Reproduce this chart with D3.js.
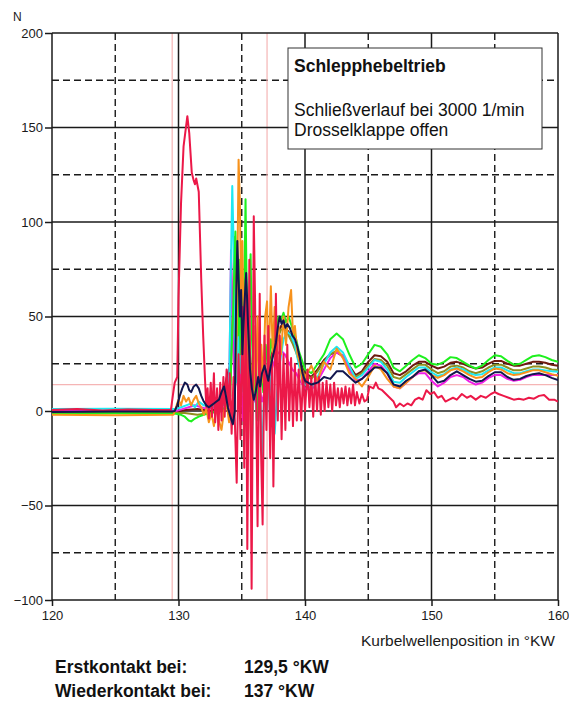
<!DOCTYPE html>
<html><head><meta charset="utf-8">
<script src="https://cdn.jsdelivr.net/npm/d3@7"></script>
<style>body{margin:0;background:#fff;} text{font-family:"Liberation Sans",Arial,sans-serif;}</style>
</head><body><svg id="c" width="569" height="704"></svg>
<script>
const xTicks = [120,130,140,150,160];
const yTicks = [-100,-50,0,50,100,150,200];
const xMinor = [125,135,145,155];
const yMinor = [-75,-25,25,75,125,175];
const contactX = [129.5,137];
const contactY = [14];

const tailX = [140,140.5,141,141.5,142,142.5,143,143.5,144,144.5,145,145.5,146,146.5,147,147.5,148,148.5,149,149.5,150,150.5,151,151.5,152,152.5,153,153.5,154,154.5,155,155.5,156,156.5,157,157.5,158,158.5,159,159.5,160];

const redData = [[120,0.5],[122,1],[124,0.3],[126,0.8],[128,0.5],[129.4,0.6],[129.55,8],[129.7,15],[129.9,18],[130.0,60],[130.2,110],[130.4,140],[130.7,156],[130.85,147],[131.05,126],[131.2,122],[131.3,120],[131.4,123],[131.6,116],[131.8,69],[131.95,40],[132.1,16],[132.2,2],[132.3,12],[132.4,-4],[132.55,15],[132.65,-3],[132.8,20],[132.9,-6],[133.05,12],[133.15,-10],[133.3,15],[133.4,-5],[133.55,18],[133.65,-3],[133.8,22],[133.95,0],[134.05,20],[134.2,-12],[134.35,18],[134.6,-38],[134.75,30],[134.9,-15],[135.05,55],[135.2,-30],[135.32,70],[135.44,-73],[135.6,80],[135.78,-94],[135.95,103],[136.05,60],[136.25,-61],[136.42,62],[136.52,-20],[136.65,-60],[136.8,40],[136.95,-10],[137.1,45],[137.25,-25],[137.4,30],[137.5,-40],[137.7,62],[137.85,-5],[138.0,40],[138.15,-15],[138.3,30],[138.45,-10],[138.6,35],[138.75,-5],[138.9,28],[139.05,-8],[139.2,25],[139.35,-5],[139.5,22],[139.7,-5],[139.85,20],[140.0,0],[140.2,22],[140.35,2],[140.5,18],[140.65,-3],[140.8,20],[140.95,0],[141.1,18],[141.25,-2],[141.4,15],[141.55,0],[141.7,16],[141.85,2],[142.0,14],[142.15,0],[142.3,15],[142.45,3],[142.6,12],[142.75,2],[142.9,12],[143.05,4],[143.2,13],[143.35,3],[143.5,12],[143.65,4],[143.8,14],[143.95,3],[144.1,10],[144.3,4],[144.5,9],[144.7,5],[144.9,6],[145.1,13],[145.4,12],[145.6,15],[145.8,12],[146.1,11],[146.4,9],[146.7,7],[147.0,5],[147.2,2],[147.5,4],[147.8,2.5],[148.1,4],[148.4,3],[148.7,6],[149.0,7],[149.3,6],[149.6,11],[149.9,9],[150.2,10],[150.5,7],[150.8,8],[151.1,5],[151.4,6],[151.7,7],[152.0,6],[152.4,9],[152.8,7],[153.1,8],[153.5,6],[153.9,8],[154.3,7],[154.7,9],[155.0,10],[155.3,9],[155.7,8],[156.1,7],[156.5,6],[156.9,6.5],[157.3,6],[157.7,7],[158.1,6.5],[158.5,8],[158.9,8.5],[159.3,6],[159.7,6],[160,5]];

const navyHead = [[120,-0.5],[125,-0.3],[129.5,-0.3],[129.7,0],[129.9,3],[130.1,8],[130.3,12],[130.5,15],[130.7,14],[130.85,11],[131.0,10],[131.2,13],[131.4,14],[131.6,12],[131.8,8],[132.0,5],[132.2,3],[132.4,2],[132.6,3],[132.8,4],[133.0,5],[133.2,6],[133.4,10],[133.6,13],[133.75,8],[133.9,2],[134.1,-3],[134.3,-7],[134.45,0],[134.55,55],[134.65,90],[134.75,70],[134.85,50],[134.95,64],[135.05,30],[135.2,55],[135.35,73],[135.5,45],[135.65,22],[135.8,12],[135.95,6],[136.1,10],[136.3,18],[136.45,13],[136.6,20],[136.8,24],[136.95,20],[137.1,16],[137.3,24],[137.5,30],[137.7,36],[137.85,44],[138.0,50],[138.15,46],[138.3,48],[138.45,44],[138.6,46],[138.8,44],[139.0,40],[139.2,38],[139.4,34],[139.6,28],[139.8,20]];
const navyTail = [16,14,15,18,17,21,21,18,15,17,20,23,23,20,14,13,16,18,21,22,19,15,16,19,21,19,17,15.5,16,18.5,20.5,20.5,18,16.5,17,18.5,19.5,20,19,17.5,16.4];

const greenHead = [[120,-1.5],[125,-1.2],[129.8,-1.5],[130.2,-2],[130.5,-3],[130.8,-5],[131.0,-5.5],[131.3,-4],[131.6,-3],[132.0,-2],[132.5,-1],[133.0,0],[133.5,1],[133.9,3],[134.1,15],[134.3,50],[134.5,95],[134.6,70],[134.7,40],[134.8,80],[134.9,30],[135.0,70],[135.15,40],[135.3,112],[135.45,30],[135.6,60],[135.7,83],[135.8,40],[135.95,10],[136.1,30],[136.3,-5],[136.5,25],[136.7,10],[136.9,35],[137.1,20],[137.3,38],[137.5,30],[137.7,42],[137.9,50],[138.1,48],[138.3,52],[138.5,47],[138.7,50],[138.9,46],[139.1,42],[139.3,38],[139.5,32],[139.7,28],[139.9,24]];
const greenTail = [22,20,25,30,38,41,38,30,23,25,30,35,34,30,23,21,24,27,29.5,28,25,24.5,26,28.5,28,26,24,22.5,24,27,29.5,29,26.5,24.5,25,27,29,29.5,28.5,27,26];

const brownHead = [[120,-0.5],[129.8,-0.5],[130.5,0.5],[131.5,1],[132.5,0],[133.0,1],[133.3,5],[133.6,12],[133.9,20],[134.1,25],[134.25,40],[134.4,70],[134.5,85],[134.6,50],[134.75,20],[134.9,45],[135.05,15],[135.25,40],[135.45,10],[135.65,30],[135.85,5],[136.1,20],[136.35,10],[136.6,22],[136.9,18],[137.2,26],[137.5,33],[137.8,40],[138.1,45],[138.4,44],[138.7,42],[139.0,38],[139.3,33],[139.6,27],[139.9,21]];
const brownTail = [20,18,22,27,30,31,29,24,19,21,26,29.5,29,26,20,19,21,24,26,26,24,22.5,23.5,25.5,26,25,23.5,22.5,23,25,26.5,26.5,25,24,24,25,26,26,25.5,24.5,24];

const oliveHead = [[120,-1],[129.8,-1],[130.5,-1],[131.5,-2],[132.5,-1],[133.5,0],[133.9,2],[134.1,8],[134.3,60],[134.45,92],[134.55,55],[134.7,20],[134.85,60],[135.0,25],[135.2,50],[135.4,15],[135.6,40],[135.8,10],[136.0,25],[136.3,5],[136.6,20],[136.9,15],[137.2,25],[137.5,30],[137.8,38],[138.1,43],[138.4,44],[138.7,40],[139.0,36],[139.3,31],[139.6,25],[139.9,20]];
const oliveTail = [19,17,21,26,30,32,29,23,18,20,24,27.5,27,24,18,17,19.5,22,24.5,24.5,22,20,21,23.5,24,23,21,20,21,23,24.5,24.5,23,21.5,21.5,22.5,23.5,23.5,23,22,21.7];

const cyanHead = [[120,1],[125,1.2],[129.8,1],[130.2,2],[130.6,3],[131.0,4],[131.3,2],[131.6,5],[132.0,3],[132.5,2],[133.0,3],[133.5,4],[133.8,2],[134.0,10],[134.15,80],[134.25,119],[134.35,90],[134.45,40],[134.55,15],[134.7,50],[134.85,20],[135.0,60],[135.15,10],[135.3,40],[135.45,-10],[135.6,30],[135.8,-20],[136.0,25],[136.2,-5],[136.4,20],[136.6,-25],[136.8,15],[137.0,0],[137.2,20],[137.4,5],[137.6,-12],[137.8,10],[138.0,25],[138.3,38],[138.6,42],[138.9,40],[139.2,35],[139.5,25],[139.8,15]];
const cyanTail = [14,12,18,25,31,34,31,24,17,19,23,27,26,22,15.5,15,18,20.5,23,23,20.5,18.5,19.5,22,23,22,20,19,19.5,21.5,23,23,21.5,20,20,21,22,22,21.5,21,20.8];

const orangeHead = [[120,-2],[125,-2.2],[129.6,-2],[129.8,2],[130.0,6],[130.2,3],[130.4,8],[130.6,5],[130.8,7],[131.0,3],[131.2,6],[131.4,8],[131.6,4],[131.8,2],[132.0,-2],[132.2,1],[132.4,-6],[132.6,-1],[132.8,-8],[133.0,2],[133.2,-5],[133.4,-10],[133.6,0],[133.8,4],[134.0,-6],[134.2,5],[134.4,-3],[134.6,40],[134.75,133],[134.85,110],[134.95,60],[135.05,90],[135.2,20],[135.35,50],[135.5,-15],[135.65,30],[135.8,-20],[135.95,45],[136.1,10],[136.25,50],[136.4,0],[136.55,35],[136.7,15],[136.85,50],[137.0,58],[137.1,20],[137.3,66],[137.45,30],[137.6,55],[137.75,25],[137.9,45],[138.1,30],[138.3,50],[138.5,35],[138.7,55],[138.9,64],[139.05,40],[139.2,45],[139.4,30],[139.6,25],[139.8,15]];
const orangeTail = [18,24,16,26,22,33,28,20,17,13,18,24,22,17,13,12,15,18,21,21.5,19,17.5,19,21.5,22.5,21,19,17.5,18,20.5,22.5,22,20,19,19.5,20.5,21.5,21.5,20.5,19.5,18.7];

const magentaHead = [[120,0],[129.8,0],[130.3,1],[130.8,2],[131.3,3],[131.8,2],[132.3,1],[133,2],[133.6,3],[134.0,5],[134.15,85],[134.3,40],[134.45,10],[134.6,30],[134.75,5],[134.9,25],[135.1,-5],[135.3,20],[135.5,0],[135.7,15],[136,5],[136.3,15],[136.6,5],[136.9,12],[137.2,18],[137.5,25],[137.8,30],[138.1,32],[138.4,30],[138.7,26],[139.0,22],[139.3,20],[139.6,16],[139.9,13]];
const magentaTail = [12,11,16,22,28,31,29,22,16,17,21,25,24,20,13,12,15,18,20,20,16,13,15,18,19,18,15.5,14,15,17.5,19,19,17,16,16.5,18,19,19,19,19,19];

const join = (head, tail) => head.concat(tailX.map((t,i)=>[t, tail[i]]));
const series = [
  {name:"brown", color:"#6e1a0e", data: join(brownHead, brownTail)},
  {name:"olive", color:"#8f8f1e", data: join(oliveHead, oliveTail)},
  {name:"magenta", color:"#f01ee6", data: join(magentaHead, magentaTail)},
  {name:"cyan", color:"#1ee8f0", data: join(cyanHead, cyanTail)},
  {name:"green", color:"#1ef01e", data: join(greenHead, greenTail)},
  {name:"orange", color:"#f7921c", data: join(orangeHead, orangeTail)},
  {name:"red", color:"#ec1848", data: redData},
  {name:"navy", color:"#12164e", data: join(navyHead, navyTail)}
];

const svg = d3.select("#c");
const L=52, R=558, T=33, B=600;
const x = d3.scaleLinear().domain([120,160]).range([L,R]);
const y = d3.scaleLinear().domain([-100,200]).range([B,T]);

svg.append("defs").append("clipPath").attr("id","clip")
  .append("rect").attr("x",L).attr("y",T).attr("width",R-L).attr("height",B-T);

const grid = svg.append("g");
grid.selectAll(".vx").data(xMinor).enter().append("line")
  .attr("x1",d=>x(d)).attr("x2",d=>x(d)).attr("y1",T).attr("y2",B)
  .attr("stroke","#1a1a1a").attr("stroke-width",1.4).attr("stroke-dasharray","7,4");
grid.selectAll(".hy").data(yMinor).enter().append("line")
  .attr("y1",d=>y(d)).attr("y2",d=>y(d)).attr("x1",L).attr("x2",R)
  .attr("stroke","#1a1a1a").attr("stroke-width",1.4).attr("stroke-dasharray","7,4");
grid.selectAll(".cx").data(contactX).enter().append("line")
  .attr("x1",d=>x(d)).attr("x2",d=>x(d)).attr("y1",T).attr("y2",B)
  .attr("stroke","#f5b5b5").attr("stroke-width",1.2);
grid.selectAll(".cy").data(contactY).enter().append("line")
  .attr("y1",d=>y(d)).attr("y2",d=>y(d)).attr("x1",L).attr("x2",R)
  .attr("stroke","#f5b5b5").attr("stroke-width",1.2);
grid.selectAll(".mx").data(xTicks).enter().append("line")
  .attr("x1",d=>x(d)).attr("x2",d=>x(d)).attr("y1",T).attr("y2",B)
  .attr("stroke","#1a1a1a").attr("stroke-width",1.5);
grid.selectAll(".my").data(yTicks).enter().append("line")
  .attr("y1",d=>y(d)).attr("y2",d=>y(d)).attr("x1",L).attr("x2",R)
  .attr("stroke","#1a1a1a").attr("stroke-width",1.5);

const line = d3.line().x(d=>x(d[0])).y(d=>y(d[1]));
const lg = svg.append("g").attr("clip-path","url(#clip)");
lg.selectAll("path").data(series).enter().append("path")
  .attr("d",d=>line(d.data)).attr("fill","none")
  .attr("stroke",d=>d.color).attr("stroke-width",2).attr("stroke-linejoin","round");

const ay = svg.append("g").attr("transform",`translate(${L},0)`)
  .call(d3.axisLeft(y).tickValues(yTicks).tickSize(7).tickPadding(2).tickFormat(d3.format("d")));
const ax = svg.append("g").attr("transform",`translate(0,${B})`)
  .call(d3.axisBottom(x).tickValues(xTicks).tickSize(6).tickPadding(5).tickFormat(d3.format("d")));
[ay,ax].forEach(a=>{
  a.select(".domain").remove();
  a.selectAll(".tick line").attr("stroke","#1a1a1a").attr("stroke-width",1.5);
  a.selectAll(".tick text").attr("fill","#1a1a1a").style("font-size","13px").style("font-family","'Liberation Sans',Arial,sans-serif");
});

svg.append("text").attr("x",13).attr("y",21).text("N").attr("fill","#1a1a1a").style("font-size","12px");
svg.append("text").attr("x",555).attr("y",646).attr("text-anchor","end")
  .text("Kurbelwellenposition in °KW").attr("fill","#1a1a1a").style("font-size","15.5px");

const lgd = svg.append("g");
lgd.append("rect").attr("x",288).attr("y",48).attr("width",254).attr("height",101)
  .attr("fill","#fff").attr("stroke","#333").attr("stroke-width",1);
lgd.append("text").attr("x",294).attr("y",72).text("Schlepphebeltrieb")
  .style("font-size","17.5px").style("font-weight","bold").attr("fill","#111");
lgd.append("text").attr("x",294).attr("y",116).text("Schließverlauf bei 3000 1/min")
  .style("font-size","17.5px").attr("fill","#111");
lgd.append("text").attr("x",294).attr("y",136).text("Drosselklappe offen")
  .style("font-size","17.5px").attr("fill","#111");

const notes = svg.append("g").style("font-weight","bold").style("font-size","17.5px").attr("fill","#111");
notes.append("text").attr("x",55).attr("y",673).text("Erstkontakt bei:");
notes.append("text").attr("x",244).attr("y",673).text("129,5 °KW");
notes.append("text").attr("x",55).attr("y",697).text("Wiederkontakt bei:");
notes.append("text").attr("x",244).attr("y",697).text("137 °KW");
</script></body></html>
